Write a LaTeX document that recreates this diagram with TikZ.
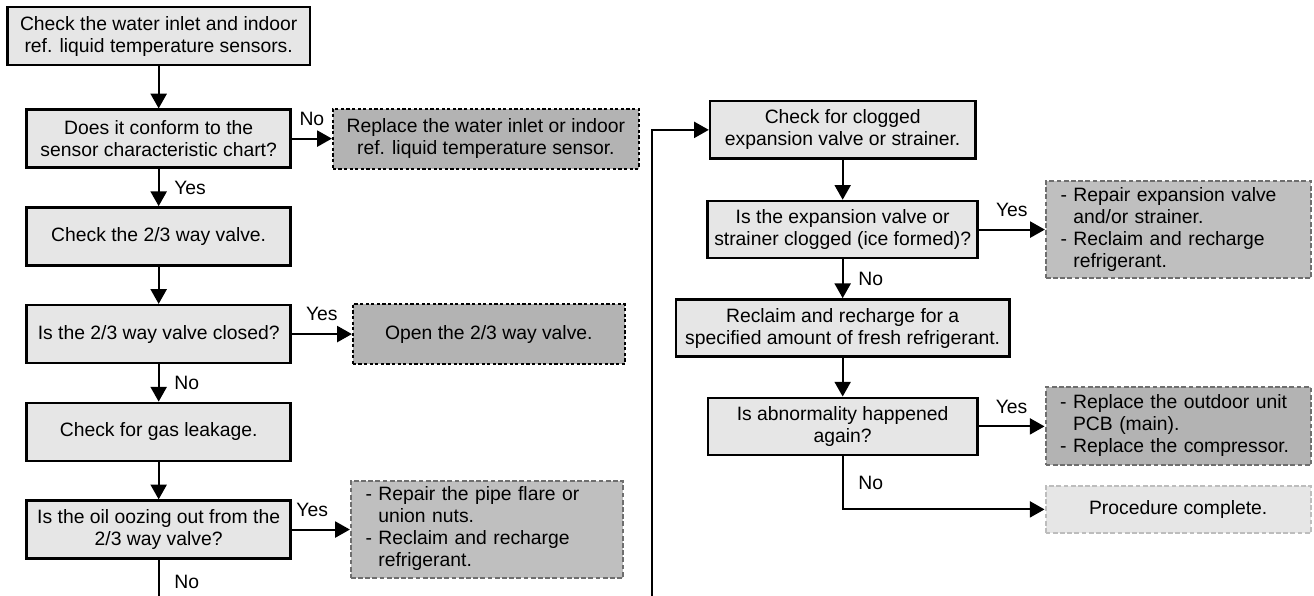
\documentclass[tikz,border=0pt]{standalone}
\usepackage{fontspec}
\setmainfont{Liberation Sans}
\usepackage{xcolor}
\usepackage{tikz}
\usetikzlibrary{positioning,arrows.meta}

\definecolor{boxgray}{HTML}{E6E6E6}
\definecolor{fixgray}{HTML}{B3B3B3}
\definecolor{todogray}{HTML}{BFBFBF}
\definecolor{dashgray}{HTML}{6E6E6E}
\definecolor{lightdash}{HTML}{BDBDBD}

\begin{document}
\begin{tikzpicture}[
    node distance=28pt,
    >={Triangle[length=11pt,width=12pt]},
    font=\fontsize{14.5pt}{16.5pt}\selectfont,
    every node/.style={align=center},
    stepbox/.style={draw, line width=1.8pt, fill=boxgray, minimum height=43.5pt},
    fixbox/.style={draw, line width=1.5pt, fill=fixgray, dash pattern=on 2.4pt off 1.8pt, minimum height=45pt},
    todobox/.style={draw=dashgray, line width=1.5pt, fill=todogray, dash pattern=on 3.6pt off 1.8pt, inner xsep=11pt, align=left},
    endbox/.style={draw=lightdash, line width=1.5pt, fill=boxgray, dash pattern=on 3.6pt off 1.8pt},
    flow/.style={->, line width=1.5pt},
    lbl/.style={inner sep=1pt}
]

\useasboundingbox (0,0) rectangle (985.5pt,-447pt);

% Left column
\node[
    stepbox,
    minimum width=227pt,
    anchor=north
] (b1) at (119pt,-4.5pt) {Check the water inlet and indoor\\ref. liquid temperature sensors.};

\node[
    stepbox,
    minimum width=198pt,
    below=31.5pt of b1
] (b2) {Does it conform to the\\sensor characteristic chart?};

\node[
    fixbox,
    minimum width=229.5pt,
    right=30pt of b2
] (b3) {Replace the water inlet or indoor\\ref. liquid temperature sensor.};

\node[
    stepbox,
    minimum width=198pt,
    below=of b2
] (b4) {Check the 2/3 way valve.};

\node[
    stepbox,
    minimum width=198pt,
    below=of b4
] (b5) {Is the 2/3 way valve closed?};

\node[
    fixbox,
    minimum width=204pt,
    right=45pt of b5
] (b6) {Open the 2/3 way valve.};

\node[
    stepbox,
    minimum width=198pt,
    below=of b5
] (b7) {Check for gas leakage.};

\node[
    stepbox,
    minimum width=198pt,
    below=of b7
] (b8) {Is the oil oozing out from the\\2/3 way valve?};

\node[
    todobox,
    text width=182pt,
    minimum height=73pt,
    right=43.5pt of b8
] (b9) {\begin{tabular}{@{}l@{\ }l@{}}-&Repair the pipe flare or\\&union nuts.\\-&Reclaim and recharge\\&refrigerant.\end{tabular}};

% Right column
\node[
    stepbox,
    minimum width=199pt,
    minimum height=43pt,
    anchor=north
] (b10) at (632pt,-75pt) {Check for clogged\\expansion valve or strainer.};

\node[
    stepbox,
    minimum width=202.5pt,
    minimum height=43pt,
    below=30pt of b10
] (b11) {Is the expansion valve or\\strainer clogged (ice formed)?};

\node[
    todobox,
    text width=177pt,
    minimum height=72pt,
    right=49.5pt of b11
] (b12) {\begin{tabular}{@{}l@{\ }l@{}}-&Repair expansion valve\\&and/or strainer.\\-&Reclaim and recharge\\&refrigerant.\end{tabular}};

\node[
    stepbox,
    minimum width=250pt,
    minimum height=43pt,
    below=29pt of b11
] (b13) {Reclaim and recharge for a\\specified amount of fresh refrigerant.};

\node[
    stepbox,
    minimum width=202pt,
    minimum height=43pt,
    below=29pt of b13
] (b14) {Is abnormality happened\\again?};

\node[
    todobox,
    fill=fixgray,
    text width=177pt,
    minimum height=58.5pt,
    right=49.5pt of b14
] (b15) {\begin{tabular}{@{}l@{\ }l@{}}-&Replace the outdoor unit\\&PCB (main).\\-&Replace the compressor.\end{tabular}};

\node[
    endbox,
    minimum width=199pt,
    minimum height=35pt,
    below=14pt of b15
] (b16) {Procedure complete.};

% Page edges
\coordinate (pageend) at (0,-447pt);
\coordinate (loopfoot) at (489pt,-447pt);

% Flow
\draw[flow] (b1) -- (b2);
\draw[flow] (b2) -- node[lbl, above=8pt] {No} (b3);
\draw[flow] (b2) -- node[lbl, right=10pt] {Yes} (b4);
\draw[flow] (b4) -- (b5);
\draw[flow] (b5) -- node[lbl, above=8pt] {Yes} (b6);
\draw[flow] (b5) -- node[lbl, right=10pt] {No} (b7);
\draw[flow] (b7) -- (b8);
\draw[flow] (b8) -- node[lbl, above=8pt, pos=0.35] {Yes} (b9);
\draw[line width=1.5pt] (b8.south) -- node[lbl, right=10pt, pos=0.6] {No} (b8.south |- pageend);

\draw[flow] (loopfoot) |- (b10.west);
\draw[flow] (b10) -- (b11);
\draw[flow] (b11) -- node[lbl, above=8pt] {Yes} (b12);
\draw[flow] (b11) -- node[lbl, right=10pt] {No} (b13);
\draw[flow] (b13) -- (b14);
\draw[flow] (b14) -- node[lbl, above=8pt] {Yes} (b15);
\draw[flow] (b14) |- node[lbl, right=10pt, pos=0.25] {No} (b16);

\end{tikzpicture}
\end{document}
